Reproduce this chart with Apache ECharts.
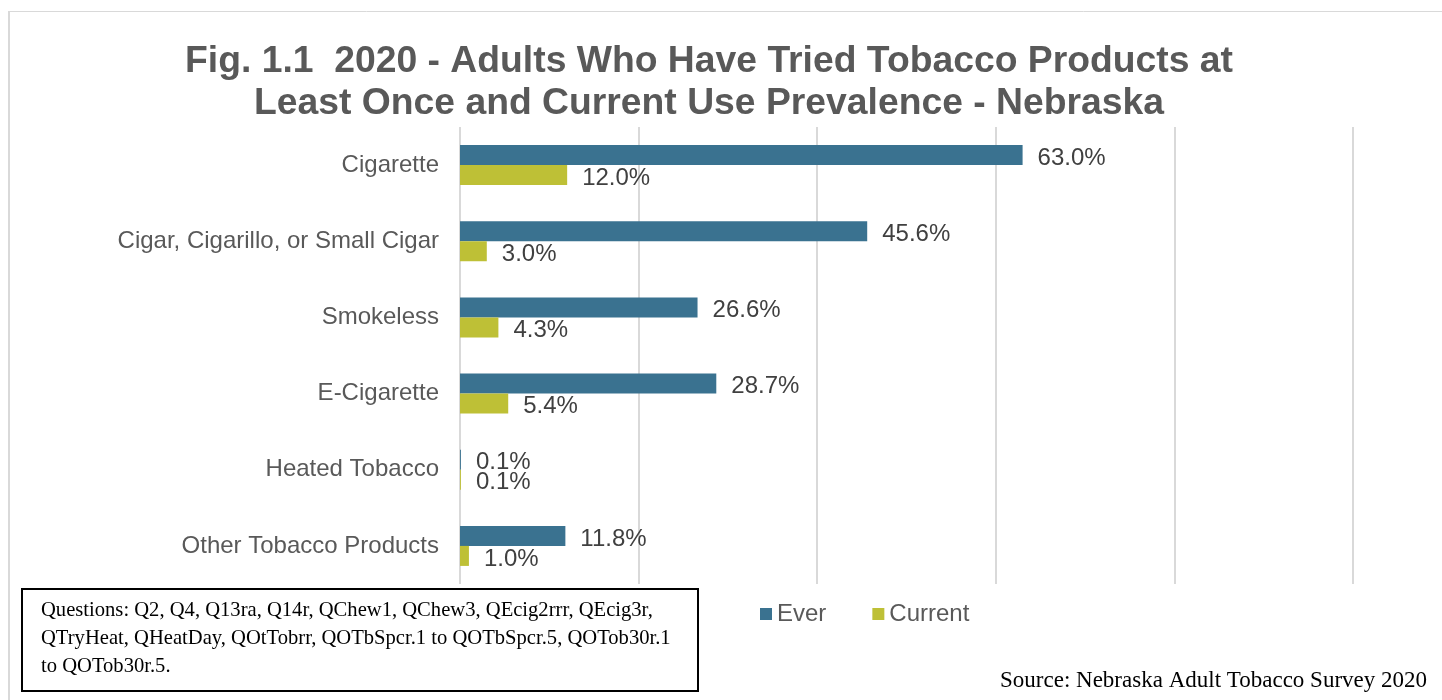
<!DOCTYPE html>
<html>
<head>
<meta charset="utf-8">
<title>Tobacco use prevalence - Nebraska 2020</title>
<script src="https://cdn.jsdelivr.net/npm/echarts@6/dist/echarts.min.js"></script>
<style>
  html, body { margin: 0; padding: 0; background: #ffffff; }
  #chart { width: 1442px; height: 700px; }
</style>
</head>
<body>
<div id="chart"></div>
<script>
// Product categories, top to bottom
const categories = [
  'Cigarette',
  'Cigar, Cigarillo, or Small Cigar',
  'Smokeless',
  'E-Cigarette',
  'Heated Tobacco',
  'Other Tobacco Products'
];
// Percent of adults who have ever tried each product
const everValues = [63.0, 45.6, 26.6, 28.7, 0.1, 11.8];
// Percent of adults currently using each product
const currentValues = [12.0, 3.0, 4.3, 5.4, 0.1, 1.0];

const titleLines = [
  'Fig. 1.1  2020 - Adults Who Have Tried Tobacco Products at',
  'Least Once and Current Use Prevalence - Nebraska'
];
const questionLines = [
  'Questions: Q2, Q4, Q13ra, Q14r, QChew1, QChew3, QEcig2rrr, QEcig3r,',
  'QTryHeat, QHeatDay, QOtTobrr, QOTbSpcr.1 to QOTbSpcr.5, QOTob30r.1',
  'to QOTob30r.5.'
];
const sourceText = 'Source: Nebraska Adult Tobacco Survey 2020';

const SANS = '"Liberation Sans", Arial, sans-serif';
const SERIF = '"Liberation Serif", "Times New Roman", serif';

const chart = echarts.init(document.getElementById('chart'), null, { renderer: 'canvas' });

const barLabel = {
  show: true,
  position: 'right',
  distance: 15,
  offset: [0, 3],
  color: '#404040',
  fontFamily: SANS,
  fontSize: 24,
  formatter: p => p.value.toFixed(1) + '%'
};

chart.setOption({
  animation: false,
  backgroundColor: '#ffffff',
  title: {
    text: titleLines.join('\n'),
    left: 704,
    top: 36,
    textAlign: 'center',
    textStyle: {
      fontFamily: SANS,
      fontWeight: 'bold',
      fontSize: 37.3,
      lineHeight: 42,
      color: '#595959'
    }
  },
  legend: {
    data: ['Ever', 'Current'],
    left: 760,
    top: 602,
    padding: 0,
    itemWidth: 12,
    itemHeight: 12,
    itemGap: 46,
    icon: 'rect',
    textStyle: { fontFamily: SANS, fontSize: 24, color: '#595959' }
  },
  grid: { left: 460, right: 89, top: 127, bottom: 116, containLabel: false },
  xAxis: {
    type: 'value',
    min: 0,
    max: 100,
    interval: 20,
    axisLabel: { show: false },
    axisTick: { show: false },
    axisLine: { show: false },
    splitLine: { show: true, lineStyle: { color: '#d9d9d9', width: 2 } }
  },
  yAxis: {
    type: 'category',
    data: categories,
    inverse: true,
    axisTick: { show: false },
    axisLine: { show: false },
    axisLabel: {
      margin: 21,
      color: '#595959',
      fontFamily: SANS,
      fontSize: 24,
      padding: [4, 0, 0, 0]
    }
  },
  series: [
    {
      name: 'Ever',
      type: 'bar',
      data: everValues,
      barWidth: 20,
      barGap: '0%',
      itemStyle: { color: '#3a7290' },
      label: barLabel
    },
    {
      name: 'Current',
      type: 'bar',
      data: currentValues,
      barWidth: 20,
      barGap: '0%',
      itemStyle: { color: '#bec036' },
      label: barLabel
    }
  ],
  graphic: [
    // light frame along the top and left edges
    { type: 'line', shape: { x1: 8, y1: 11.5, x2: 1442, y2: 11.5 }, style: { stroke: '#d9d9d9', lineWidth: 1 } },
    { type: 'line', shape: { x1: 9, y1: 11, x2: 9, y2: 700 }, style: { stroke: '#d9d9d9', lineWidth: 2 } },
    // questions note box
    {
      type: 'rect',
      shape: { x: 22, y: 589, width: 676, height: 102 },
      style: { fill: '#ffffff', stroke: '#000000', lineWidth: 2 }
    },
    {
      type: 'text',
      left: 41,
      top: 597,
      style: {
        text: questionLines.join('\n'),
        font: '20.6px ' + SERIF,
        lineHeight: 28,
        fill: '#000000'
      }
    },
    {
      type: 'text',
      right: 15,
      top: 669,
      style: {
        text: sourceText,
        font: '23px ' + SERIF,
        fill: '#000000'
      }
    }
  ]
});
</script>
</body>
</html>
